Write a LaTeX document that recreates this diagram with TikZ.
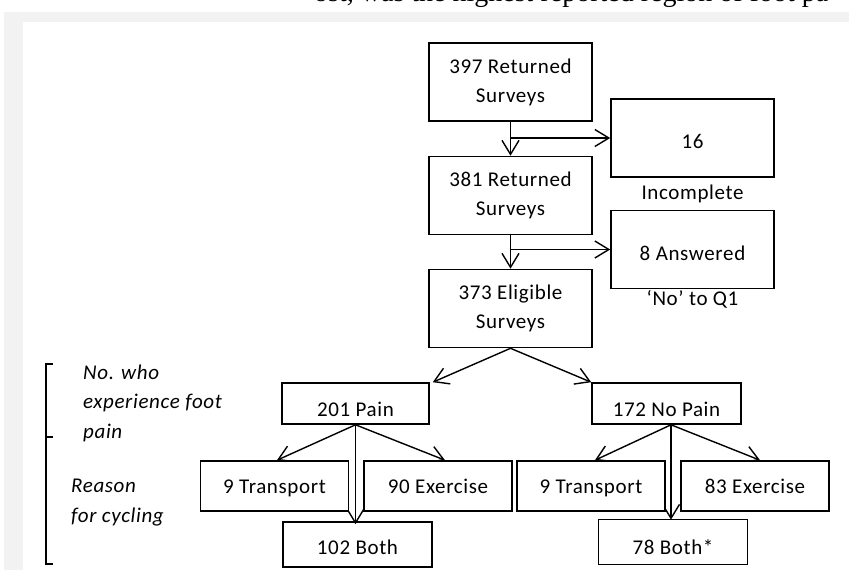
\documentclass[tikz,border=0pt]{standalone}
\usepackage{fontspec}
\newfontfamily\boxfont{Carlito}[LetterSpace=3]
\newfontfamily\pagefont{Liberation Serif}
\usetikzlibrary{positioning,arrows.meta,backgrounds}

\begin{document}
\begin{tikzpicture}[x=1pt, y=-1pt,
    font=\boxfont\fontsize{21}{29}\selectfont,
    box/.style={draw, line width=1.6pt, fill=white, align=center, inner sep=2pt},
    mainbox/.style={box, minimum width=163pt, minimum height=78pt},
    sidebox/.style={box, minimum width=163pt, minimum height=78pt, text height=21.5pt, text depth=0pt},
    painbox/.style={box, minimum height=41pt, text height=26pt, text depth=0pt},
    reasonbox/.style={box, minimum width=148pt, minimum height=50pt, text height=14pt, text depth=0pt},
    bothbox/.style={box, fill=none, minimum width=149pt, minimum height=45pt, text depth=0pt},
    flow/.style={-{Straight Barb[length=14pt,width=17pt]}, line width=1.4pt},
    brace/.style={line width=1.5pt},
    side/.style={font=\boxfont\itshape\fontsize{21}{29.5}\selectfont, align=left, anchor=west, inner sep=0pt}]
    \useasboundingbox (0,0) rectangle (849,570);
    % Fundo da pagina
    \begin{scope}[on background layer]
        \fill[black!5] (4,12) rectangle (849,570);
        \fill[white] (23,22) rectangle (849,570);
    \end{scope}
    \node[anchor=base west, inner sep=0pt, font=\pagefont\fontsize{28}{34}\selectfont] (pagetext) at (314,1.5) {ost, was the highest reported region of foot pa};
    % Caixas principais
    \node[mainbox] (ret1) at (510.5,82) {397 Returned\\Surveys};
    \node[mainbox] (ret2) at (510.5,195.5) {381 Returned\\Surveys};
    \node[mainbox] (elig) at (510.5,308.5) {373 Eligible\\Surveys};
    % Exclusoes
    \node[sidebox] (inc) at (692.5,138) {16};
    \node[sidebox] (ansno) at (692.5,249.5) {8 Answered};
    \node[inner sep=0pt] (inclab) at (692.5,193.5) {Incomplete};
    \node[inner sep=0pt] (nolab) at (692.5,299) {‘No’ to Q1};
    % Dor no pe
    \node[painbox, minimum width=147pt] (pain) at (355.5,403.5) {201 Pain};
    \node[painbox, minimum width=149pt] (nopain) at (666.5,403.5) {172 No Pain};
    % Motivo
    \node[reasonbox] (trans1) at (274.5,486) {9 Transport};
    \node[reasonbox] (exer1) at (438,486) {90 Exercise};
    \node[reasonbox] (trans2) at (591,486) {9 Transport};
    \node[reasonbox] (exer2) at (755,486) {83 Exercise};
    \node[bothbox, text height=20.6pt] (both1) at (357.5,544.5) {102 Both};
    \node[bothbox, text height=25.6pt] (both2) at (673,542) {78 Both*};
    % Setas
    \coordinate (split1) at (ret1.south |- inc.west);
    \coordinate (split2) at (ret2.south |- ansno.west);
    \coordinate (p0) at (pain.south);
    \coordinate (np0) at ([xshift=4.5pt]nopain.south);
    \coordinate (b1top) at (p0 |- both1.north);
    \coordinate (b2top) at (np0 |- both2.north);
    \begin{scope}[on background layer]
        \draw[flow] (ret1.south) -- (ret2.north);
        \draw[flow] (split1) -- (inc.west);
        \draw[flow] (ret2.south) -- (elig.north);
        \draw[flow] (split2) -- (ansno.west);
        \draw[flow] (elig.south) -- ([xshift=3pt]pain.north east);
        \draw[flow] (elig.south) -- (nopain.north west);
        \draw[flow] (p0) -- ([xshift=2.5pt]trans1.north);
        \draw[flow] (p0) -- ([xshift=7pt]exer1.north);
        \draw[flow] (p0) -- ([yshift=-3pt]b1top);
        \draw[flow] (np0) -- ([xshift=4pt]trans2.north);
        \draw[flow] (np0) -- ([xshift=5pt]exer2.north);
        \draw[flow] (np0) -- ([yshift=-1pt]b2top);
    \end{scope}
    % Chave lateral
    \draw[brace] (53,364) -- (46,364) -- (46,564) -- (53,564);
    \draw[brace] (46,437) -- (53,437);
    \node[side] (painq) at (83,403) {No. who\\experience foot\\pain};
    \node[side] (reasonq) at (71,502.5) {Reason\\for cycling};
\end{tikzpicture}
\end{document}
